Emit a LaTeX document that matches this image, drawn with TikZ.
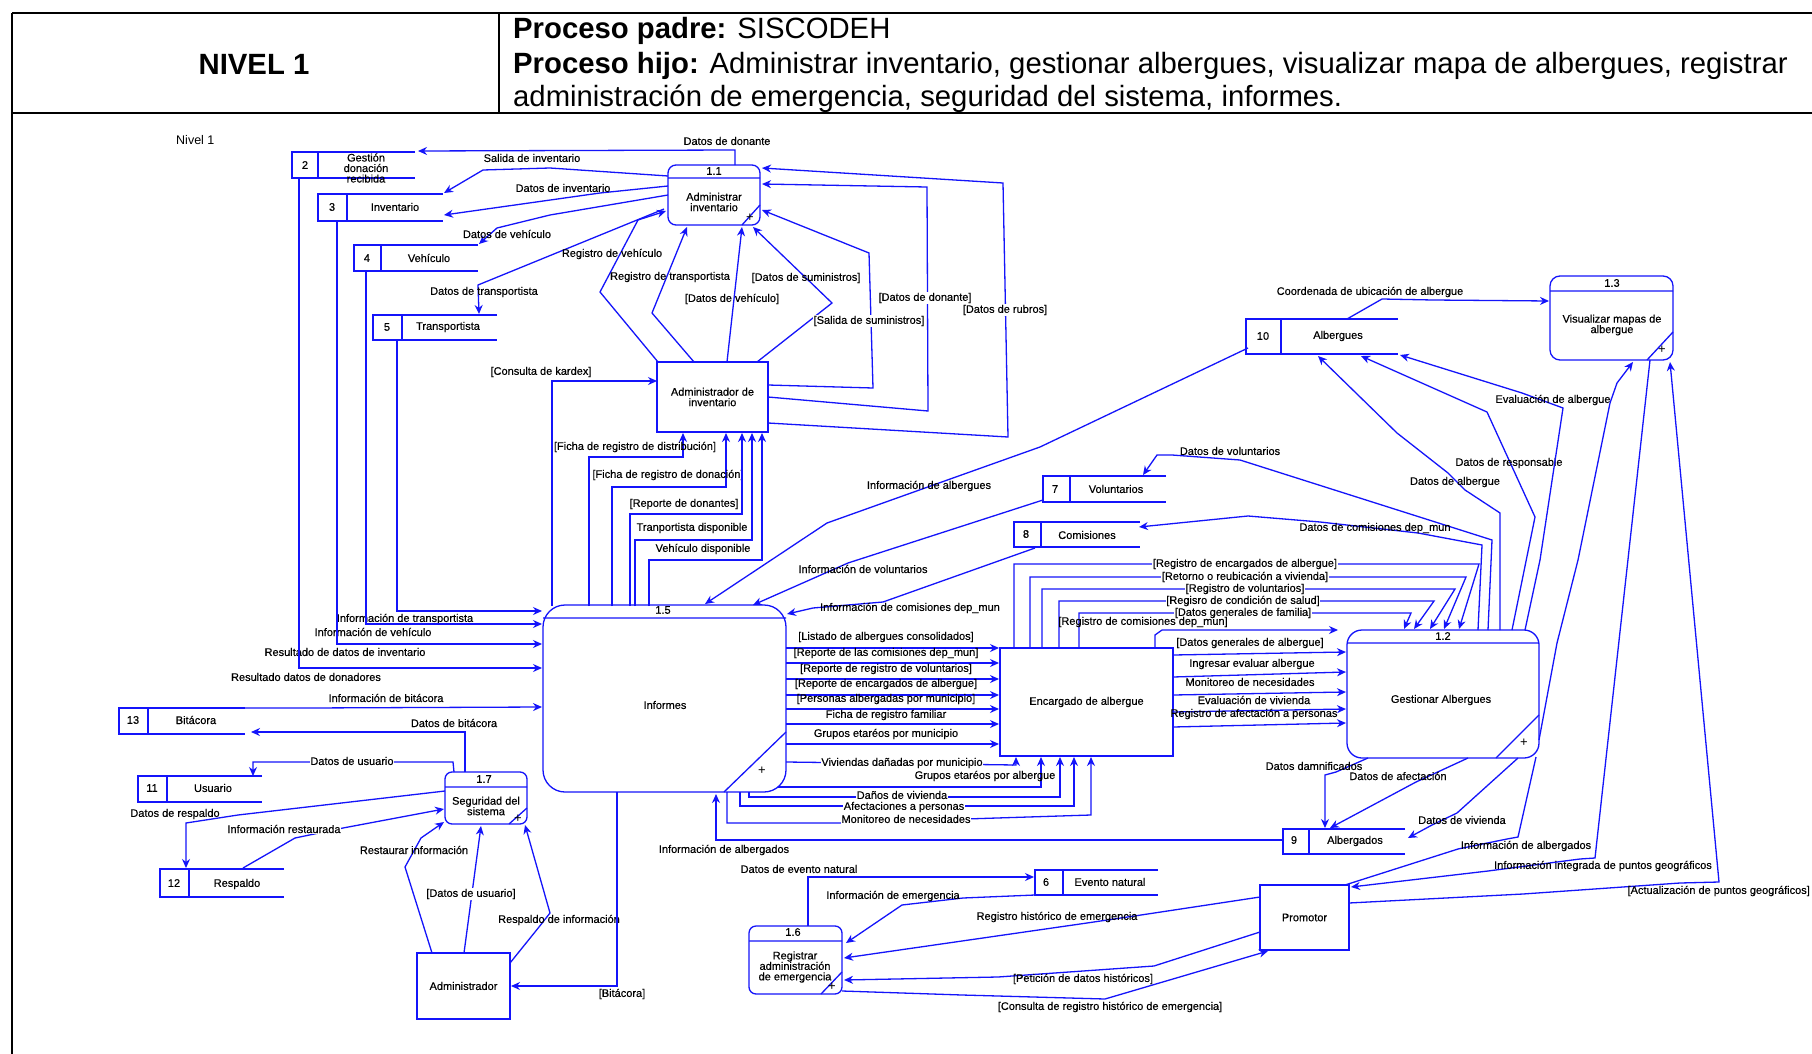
\documentclass[tikz,border=0pt]{standalone}
\usepackage{fontspec}
\setmainfont{Liberation Sans}
\newfontface\lblf{Liberation Sans}[FakeBold=0.35]
\usetikzlibrary{arrows.meta}
\definecolor{dfdblue}{RGB}{20,20,250}
\begin{document}
\begin{tikzpicture}[x=1pt,y=-1pt,
  ln/.style={draw=dfdblue,line width=1.3pt},
  fl/.style={ln,-{Stealth[length=9pt,width=8pt]}},
  lb/.style={font=\lblf\fontsize{11}{11}\selectfont,inner sep=1pt},
  lbw/.style={lb,fill=white,inner sep=0.5pt},
  bx/.style={font=\lblf\fontsize{11}{10.5}\selectfont,align=center,inner sep=0pt},
  proc/.style={draw=dfdblue,line width=1.3pt,inner sep=0pt},
  ext/.style={draw=dfdblue,line width=1.3pt,inner sep=0pt,align=center,font=\lblf\fontsize{11}{10.5}\selectfont},
  frm/.style={draw=black,line width=2pt},
  hd/.style={font=\fontsize{29.3}{34}\selectfont,inner sep=0pt}]
\useasboundingbox (0,0) rectangle (1812,1054);
\fill[white] (0,0) rectangle (1812,1054);

% ---------------- header ----------------
\draw[frm] (12,13) -- (1812,13) (12,113) -- (1812,113) (12,13) -- (12,1054) (499,13) -- (499,113);
\node[hd,font=\fontsize{29.3}{34}\selectfont\bfseries] (nivel) at (254,64) {NIVEL 1};
\node[hd,anchor=base west] (h1) at (513,39) {\textbf{Proceso padre:} SISCODEH};
\node[hd,anchor=base west] (h2) at (513,74) {\textbf{Proceso hijo:} Administrar inventario, gestionar albergues, visualizar mapa de albergues, registrar};
\node[hd,anchor=base west] (h3) at (513,107) {administración de emergencia, seguridad del sistema, informes.};

\node[font=\fontsize{12.5}{13}\selectfont,anchor=west,inner sep=0pt] (nivtit) at (176,140) {Nivel 1};

% ---------------- data stores ----------------
% 2
\draw[ln] (415,152) -- (292,152) -- (292,178) -- (415,178) (318,152) -- (318,178);
\node[bx] (s2n) at (305,165) {2};
\begin{scope}
\clip (319,153) rectangle (415,182);
\node[bx] (s2) at (366,168) {Gestión\\donación\\recibida};
\end{scope}
% 3
\draw[ln] (443,194) -- (318,194) -- (318,221) -- (443,221) (347,194) -- (347,221);
\node[bx] (s3n) at (332,207) {3};
\node[bx] (s3) at (395,207) {Inventario};
% 4
\draw[ln] (478,245) -- (354,245) -- (354,271) -- (478,271) (381,245) -- (381,271);
\node[bx] (s4n) at (367,258) {4};
\node[bx] (s4) at (429,258) {Vehículo};
% 5
\draw[ln] (497,315) -- (373,315) -- (373,340) -- (497,340) (402,315) -- (402,340);
\node[bx] (s5n) at (387,327) {5};
\node[bx] (s5) at (448,327) {Transportista};
% 10
\draw[ln] (1398,319) -- (1246,319) -- (1246,354) -- (1398,354) (1281,319) -- (1281,354);
\node[bx] (s10n) at (1263,336) {10};
\node[bx] (s10) at (1338,336) {Albergues};
% 7
\draw[ln] (1166,476) -- (1043,476) -- (1043,502) -- (1166,502) (1070,476) -- (1070,502);
\node[bx] (s7n) at (1055,489) {7};
\node[bx] (s7) at (1116,489) {Voluntarios};
% 8
\draw[ln] (1140,522) -- (1014,522) -- (1014,547) -- (1140,547) (1041,522) -- (1041,547);
\node[bx] (s8n) at (1026,534) {8};
\node[bx] (s8) at (1087,535) {Comisiones};
% 13
\draw[ln] (245,708) -- (119,708) -- (119,734) -- (245,734) (148,708) -- (148,734);
\node[bx] (s13n) at (133,720) {13};
\node[bx] (s13) at (196,720) {Bitácora};
% 11
\draw[ln] (262,776) -- (138,776) -- (138,802) -- (262,802) (167,776) -- (167,802);
\node[bx] (s11n) at (152,788) {11};
\node[bx] (s11) at (213,788) {Usuario};
% 12
\draw[ln] (284,869) -- (160,869) -- (160,897) -- (284,897) (189,869) -- (189,897);
\node[bx] (s12n) at (174,883) {12};
\node[bx] (s12) at (237,884) {Respaldo};
% 9
\draw[ln] (1405,829) -- (1283,829) -- (1283,854) -- (1405,854) (1309,829) -- (1309,854);
\node[bx] (s9n) at (1294,840) {9};
\node[bx] (s9) at (1355,841) {Albergados};
% 6
\draw[ln] (1158,870) -- (1035,870) -- (1035,895) -- (1158,895) (1063,870) -- (1063,895);
\node[bx] (s6n) at (1046,882) {6};
\node[bx] (s6) at (1110,882) {Evento natural};

% ---------------- external entities ----------------
\node[ext,minimum width=111pt,minimum height=70pt] (ainv) at (712.5,397) {Administrador de\\inventario};
\node[ext,minimum width=173pt,minimum height=108pt] (enc) at (1086.5,702) {Encargado de albergue};
\node[ext,minimum width=93pt,minimum height=66pt] (adm) at (463.5,986) {Administrador};
\node[ext,minimum width=89pt,minimum height=65pt] (prom) at (1304.5,917.5) {Promotor};

% ---------------- processes ----------------
% 1.1
\node[proc,rounded corners=8pt,minimum width=92pt,minimum height=60pt] (p11) at (714,195) {};
\draw[ln] (668,178) -- (760,178) (760,205) -- (742,225);
\node[bx] (p11n) at (714,171) {1.1};
\node[bx] (p11t) at (714,202) {Administrar\\inventario};
\node[bx,font=\fontsize{13}{13}\selectfont] (p11p) at (750,218) {+};
% 1.3
\node[proc,rounded corners=10pt,minimum width=123pt,minimum height=84pt] (p13) at (1611.5,318) {};
\draw[ln] (1550,291) -- (1673,291) (1673,332) -- (1647,360);
\node[bx] (p13n) at (1612,283) {1.3};
\node[bx] (p13t) at (1612,325) {Visualizar mapas de\\albergue};
\node[bx,font=\fontsize{13}{13}\selectfont] (p13p) at (1662,350) {+};
% 1.5
\node[proc,rounded corners=22pt,minimum width=243pt,minimum height=187pt] (p15) at (664.5,698.5) {};
\draw[ln] (543,618) -- (786,618) (786,732) -- (724,792);
\node[bx] (p15n) at (663,610) {1.5};
\node[bx] (p15t) at (665,705) {Informes};
\node[bx,font=\fontsize{13}{13}\selectfont] (p15p) at (762,771) {+};
% 1.2
\node[proc,rounded corners=15pt,minimum width=192pt,minimum height=128pt] (p12) at (1443,694) {};
\draw[ln] (1347,643) -- (1539,643) (1539,715) -- (1496,758);
\node[bx] (p12n) at (1443,636) {1.2};
\node[bx] (p12t) at (1441,700) {Gestionar Albergues};
\node[bx,font=\fontsize{13}{13}\selectfont] (p12p) at (1524,743) {+};
% 1.7
\node[proc,rounded corners=7pt,minimum width=82pt,minimum height=52pt] (p17) at (486,798) {};
\draw[ln] (445,787) -- (527,787) (527,808) -- (509,824);
\node[bx] (p17n) at (484,779) {1.7};
\node[bx] (p17t) at (486,806) {Seguridad del\\sistema};
\node[bx,font=\fontsize{13}{13}\selectfont] (p17p) at (518,819) {+};
% 1.6
\node[proc,rounded corners=7pt,minimum width=93pt,minimum height=68pt] (p16) at (795.5,960) {};
\draw[ln] (749,941) -- (842,941) (842,972) -- (821,994);
\node[bx] (p16n) at (793,932) {1.6};
\node[bx] (p16t) at (795,967) {Registrar\\administración\\de emergencia};
\node[bx,font=\fontsize{13}{13}\selectfont] (p16p) at (832,987) {+};

% ---------------- flows: 1.1 and stores ----------------
\draw[fl] (735,165) -- (735,150) -- (418,151);
\node[lb] (l1) at (727,141) {Datos de donante};
\node[lb] (l2) at (532,158) {Salida de inventario};
\draw[fl] (668,176) -- (550,168) -- (483,170) -- (444,193);
\draw[fl] (668,186) -- (600,193) -- (444,215);
\node[lb] (l3) at (563,188) {Datos de inventario};
\draw[fl] (668,195) -- (550,215) -- (497,228) -- (479,244);
\node[lb] (l4) at (507,234) {Datos de vehículo};
\draw[fl] (664,209) -- (478,285) -- (479,314);
\node[lb] (l5) at (484,292) {Datos de transportista};

% admin inv -> 1.1
\draw[fl] (658,362) -- (600,292) -- (638,220) -- (666,211);
\node[lb] (l6) at (612,254) {Registro de vehículo};
\draw[fl] (694,362) -- (652,313) -- (687,227);
\node[lb] (l7) at (670,277) {Registro de transportista};
\draw[fl] (727,362) -- (742,227);
\node[lb] (l8) at (732,299) {[Datos de vehículo]};
\draw[fl] (757,362) -- (832,303) -- (753,227);
\node[lb] (l9) at (806,278) {[Datos de suministros]};
\draw[fl] (768,385) -- (873,388) -- (869,253) -- (762,210);
\node[lbw] (l10) at (869,321) {[Salida de suministros]};
\draw[fl] (768,397) -- (928,411) -- (927,187) -- (762,184);
\node[lbw] (l11) at (925,298) {[Datos de donante]};
\draw[fl] (768,423) -- (1008,437) -- (1003,183) -- (762,168);
\node[lbw] (l12) at (1005,310) {[Datos de rubros]};

% informes -> admin inv
\draw[fl] (552,606) -- (552,381) -- (657,381);
\node[lb] (l13) at (541,372) {[Consulta de kardex]};
\draw[fl] (589,606) -- (589,457) -- (683,457) -- (683,433);
\node[lb] (l14) at (635,447) {[Ficha de registro de distribución]};
\draw[fl] (612,606) -- (612,487) -- (726,487) -- (726,433);
\node[lb] (l15) at (668,475) {[Ficha de registro de donación]};
\draw[fl] (630,606) -- (630,514) -- (742,514) -- (742,433);
\node[lb] (l16) at (684,504) {[Reporte de donantes]};
\draw[fl] (635,606) -- (635,540) -- (752,540) -- (752,433);
\node[lb] (l17) at (692,528) {Tranportista disponible};
\draw[fl] (649,606) -- (649,560) -- (762,560) -- (762,433);
\node[lb] (l18) at (703,549) {Vehículo disponible};

% stores -> informes
\draw[fl] (397,340) -- (397,611) -- (542,611);
\node[lb] (l19) at (405,619) {Información de transportista};
\draw[fl] (366,271) -- (366,624) -- (542,624);
\node[lb] (l20) at (373,632) {Información de vehículo};
\draw[fl] (337,221) -- (337,644) -- (542,644);
\node[lb] (l21) at (345,652) {Resultado de datos de inventario};
\draw[fl] (299,178) -- (299,668) -- (542,668);
\node[lb] (l22) at (306,677) {Resultado datos de donadores};
\draw[fl] (245,708) -- (307,708) -- (542,707);
\node[lb] (l23) at (386,698) {Información de bitácora};

% seguridad
\draw[fl] (465,772) -- (465,732) -- (251,732);
\node[lb] (l24) at (454,723) {Datos de bitácora};
\draw[fl] (454,772) -- (453,762) -- (253,762) -- (253,776);
\node[lbw] (l25) at (352,761) {Datos de usuario};
\draw[fl] (445,791) -- (238,815) -- (186,823) -- (186,868);
\node[lb] (l26) at (175,814) {Datos de respaldo};
\draw[fl] (243,868) -- (295,838) -- (343,828) -- (444,809);
\node[lbw] (l27) at (284,829) {Información restaurada};
\draw[fl] (432,953) -- (405,867) -- (421,838) -- (444,822);
\node[lb] (l28) at (414,850) {Restaurar información};
\draw[fl] (464,953) -- (481,826);
\node[lbw] (l29) at (471,894) {[Datos de usuario]};
\draw[fl] (510,963) -- (539,927) -- (550,913) -- (525,825);
\node[lb] (l30) at (559,920) {Respaldo de información};
\draw[fl] (617,792) -- (617,986) -- (511,986);
\node[lb] (l31) at (622,994) {[Bitácora]};

% stores -> informes top
\draw[fl] (1248,348) -- (1040,447) -- (953,478) -- (827,523) -- (705,604);
\node[lb] (l32) at (929,486) {Información de albergues};
\draw[fl] (1043,500) -- (848,563) -- (753,605);
\node[lb] (l33) at (863,569) {Información de voluntarios};
\draw[fl] (1035,548) -- (883,602) -- (813,608) -- (787,614);
\node[lb] (l34) at (910,608) {Información de comisiones dep\_mun};

% informes -> encargado
\draw[fl] (786,648) -- (999,648);
\node[lb] (l35) at (886,637) {[Listado de albergues consolidados]};
\draw[fl] (786,663) -- (999,663);
\node[lb] (l36) at (886,653) {[Reporte de las comisiones dep\_mun]};
\draw[fl] (786,679) -- (999,679);
\node[lb] (l37) at (886,669) {[Reporte de registro de voluntarios]};
\draw[fl] (786,695) -- (999,695);
\node[lb] (l38) at (886,684) {[Reporte de encargados de albergue]};
\draw[fl] (786,709) -- (999,709);
\node[lb] (l39) at (886,699) {[Personas albergadas por municipio]};
\draw[fl] (786,724) -- (999,724);
\node[lb] (l40) at (886,715) {Ficha de registro familiar};
\draw[fl] (786,744) -- (999,744);
\node[lb] (l41) at (886,734) {Grupos etaréos por municipio};
\draw[fl] (786,762) -- (1016,765) -- (1016,757);
\node[lbw] (l42) at (902,763) {Viviendas dañadas por municipio};
\draw[fl] (778,787) -- (1041,787) -- (1041,757);
\node[lb] (l43) at (985,776) {Grupos etaréos por albergue};
\draw[fl] (749,792) -- (749,797) -- (1060,797) -- (1060,757);
\node[lbw] (l44) at (902,795) {Daños de vivienda};
\draw[fl] (740,792) -- (740,806) -- (1074,806) -- (1074,757);
\node[lbw] (l45) at (904,807) {Afectaciones a personas};
\draw[fl] (727,792) -- (727,823) -- (840,823) -- (1091,815) -- (1091,757);
\node[lbw] (l46) at (906,819) {Monitoreo de necesidades};
\draw[fl] (1283,840) -- (716,840) -- (716,794);
\node[lb] (l47) at (724,850) {Información de albergados};

% encargado -> 1.2
\draw[fl] (1173,655) -- (1346,652);
\node[lb] (l48) at (1250,643) {[Datos generales de albergue]};
\draw[fl] (1173,677) -- (1346,672);
\node[lb] (l49) at (1252,664) {Ingresar evaluar albergue};
\draw[fl] (1173,695) -- (1346,692);
\node[lb] (l50) at (1250,682) {Monitoreo de necesidades};
\draw[fl] (1173,712) -- (1346,709);
\node[lb] (l51) at (1254,700) {Evaluación de vivienda};
\draw[fl] (1173,727) -- (1346,723);
\node[lb] (l52) at (1254,714) {Registro de afectación a personas};

\draw[fl] (1014,648) -- (1014,564) -- (1479,564) -- (1459,629);
\node[lbw] (l53) at (1245,564) {[Registro de encargados de albergue]};
\draw[fl] (1030,648) -- (1030,577) -- (1466,577) -- (1444,629);
\node[lbw] (l54) at (1245,577) {[Retorno o reubicación a vivienda]};
\draw[fl] (1042,648) -- (1042,589) -- (1455,589) -- (1430,629);
\node[lbw] (l55) at (1245,589) {[Registro de voluntarios]};
\draw[fl] (1059,648) -- (1059,601) -- (1434,601) -- (1414,629);
\node[lbw] (l56) at (1243,601) {[Regisro de condición de salud]};
\draw[fl] (1079,648) -- (1079,613) -- (1411,613) -- (1404,629);
\node[lbw] (l57) at (1243,613) {[Datos generales de familia]};
\draw[fl] (1155,648) -- (1155,635) -- (1162,630) -- (1338,630);
\node[lb] (l58) at (1143,622) {[Registro de comisiones dep\_mun]};

% 1.2 -> stores 10, 7, 8
\draw[fl] (1500,630) -- (1500,513) -- (1465,490) -- (1448,473) -- (1397,433) -- (1318,356);
\node[lb] (l59) at (1455,482) {Datos de albergue};
\draw[fl] (1512,630) -- (1535,517) -- (1487,412) -- (1361,356);
\node[lb] (l60) at (1509,463) {Datos de responsable};
\draw[fl] (1525,630) -- (1540,560) -- (1563,408) -- (1522,393) -- (1400,355);
\node[lb] (l61) at (1553,400) {Evaluación de albergue};
\draw[fl] (1488,630) -- (1492,540) -- (1240,460) -- (1172,455) -- (1157,455) -- (1143,475);
\node[lb] (l62) at (1230,451) {Datos de voluntarios};
\draw[fl] (1478,630) -- (1482,545) -- (1418,533) -- (1320,522) -- (1248,516) -- (1139,527);
\node[lb] (l63) at (1375,528) {Datos de comisiones dep\_mun};

% 1.2 -> store 9
\draw[fl] (1368,758) -- (1336,772) -- (1325,775) -- (1325,828);
\node[lb] (l64) at (1314,766) {Datos damnificados};
\draw[fl] (1468,758) -- (1416,782) -- (1330,828);
\node[lb] (l65) at (1398,776) {Datos de afectación};
\draw[fl] (1518,758) -- (1457,813) -- (1432,825) -- (1408,838);
\node[lb] (l66) at (1462,820) {Datos de vivienda};
\draw[ln] (1536,757) -- (1518,837) -- (1507,839) -- (1458,849) -- (1345,885);
\node[lb] (l67) at (1526,846) {Información de albergados};

% 1.3
\draw[fl] (1347,319) -- (1382,299) -- (1433,300) -- (1549,301);
\node[lb] (l68) at (1370,292) {Coordenada de ubicación de albergue};
\draw[fl] (1539,740) -- (1557,643) -- (1578,560) -- (1610,403) -- (1617,383) -- (1633,362);
\draw[fl] (1650,360) -- (1595,858) -- (1580,859) -- (1488,871) -- (1351,887);
\node[lb] (l69) at (1603,866) {Información integrada de puntos geográficos};
\draw[fl] (1349,903) -- (1523,894) -- (1680,883) -- (1719,882) -- (1670,362);
\node[lb,anchor=east] (l70) at (1811,891) {[Actualización de puntos geográficos]};

% 1.6
\draw[fl] (808,926) -- (808,877) -- (1034,877);
\node[lb] (l71) at (799,869) {Datos de evento natural};
\draw[fl] (1035,895) -- (963,898) -- (902,905) -- (846,943);
\node[lb] (l72) at (893,896) {Información de emergencia};
\draw[fl] (1260,897) -- (1141,915) -- (1087,923) -- (844,958);
\node[lb] (l73) at (1057,917) {Registro histórico de emergencia};
\draw[fl] (1260,932) -- (1154,966) -- (998,977) -- (844,980);
\node[lb] (l74) at (1083,979) {[Petición de datos históricos]};
\draw[fl] (842,991) -- (962,995) -- (1105,999) -- (1268,951);
\node[lb] (l75) at (1110,1007) {[Consulta de registro histórico de emergencia]};
\end{tikzpicture}
\end{document}
